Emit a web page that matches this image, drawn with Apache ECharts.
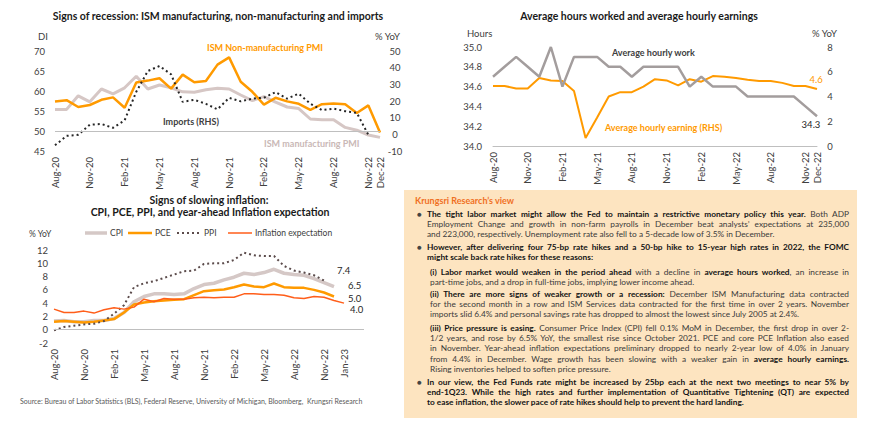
<!DOCTYPE html>
<html>
<head>
<meta charset="utf-8">
<script src="https://cdn.jsdelivr.net/npm/echarts/dist/echarts.min.js"></script>
<style>
  html, body { margin:0; padding:0; background:#fff; }
  #chart { position:absolute; left:0; top:0; width:870px; height:427px; }
  .box { position:absolute; left:404px; top:190px; width:453px; height:228px; background:#fde4c0; font-family: Lato, "Open Sans", sans-serif; color:#3a3a3a; }
  .ttl { position:absolute; left:11px; top:5px; font-size:9px; line-height:12px; font-weight:bold; color:#f0701f; white-space:nowrap; }
  .p { position:absolute; left:23px; width:422px; font-size:8.3px; line-height:10.2px; }
  .p.sub { left:26px; width:419px; }
  .p .l { display:block; text-align:justify; text-align-last:justify; }
  .p .l.e { text-align-last:left; }
  .bul { position:absolute; left:-10px; top:0; font-size:8px; color:#444; }
  .p b { color:#141414; }
</style>
</head>
<body>
<div id="chart"></div>
<div class="box">
  <div class="ttl">Krungsri Research’s view</div>
  <div class="p" style="top:19px"><span class="bul">●</span>
    <span class="l"><b>The tight labor market might allow the Fed to maintain a restrictive monetary policy this year.</b> Both ADP</span>
    <span class="l">Employment Change and growth in non-farm payrolls in December beat analysts’ expectations at 235,000</span>
    <span class="l e">and 223,000, respectively. Unemployment rate also fell to a 5-decade low of 3.5% in December.</span>
  </div>
  <div class="p" style="top:52px"><span class="bul">●</span>
    <span class="l"><b>However, after delivering four 75-bp rate hikes and a 50-bp hike to 15-year high rates in 2022, the FOMC</b></span>
    <span class="l e"><b>might scale back rate hikes for these reasons:</b></span>
  </div>
  <div class="p sub" style="top:77px">
    <span class="l"><b>(i) Labor market would weaken in the period ahead</b> with a decline in <b>average hours worked</b>, an increase in</span>
    <span class="l e">part-time jobs, and a drop in full-time jobs, implying lower income ahead.</span>
  </div>
  <div class="p sub" style="top:99px">
    <span class="l"><b>(ii) There are more signs of weaker growth or a recession:</b> December ISM Manufacturing data contracted</span>
    <span class="l">for the second month in a row and ISM Services data contracted for the first time in over 2 years. November</span>
    <span class="l e">imports slid 6.4% and personal savings rate has dropped to almost the lowest since July 2005 at 2.4%.</span>
  </div>
  <div class="p sub" style="top:133px">
    <span class="l"><b>(iii) Price pressure is easing.</b> Consumer Price Index (CPI) fell 0.1% MoM in December, the first drop in over 2-</span>
    <span class="l">1/2 years, and rose by 6.5% YoY, the smallest rise since October 2021. PCE and core PCE Inflation also eased</span>
    <span class="l">in November. Year-ahead inflation expectations preliminary dropped to nearly 2-year low of 4.0% in January</span>
    <span class="l">from 4.4% in December. Wage growth has been slowing with a weaker gain in <b>average hourly earnings.</b></span>
    <span class="l e">Rising inventories helped to soften price pressure.</span>
  </div>
  <div class="p" style="top:187px"><span class="bul">●</span>
    <span class="l"><b>In our view, the Fed Funds rate might be increased by 25bp each at the next two meetings to near 5% by</b></span>
    <span class="l"><b>end-1Q23. While the high rates and further implementation of Quantitative Tightening (QT) are expected</b></span>
    <span class="l e"><b>to ease inflation, the slower pace of rate hikes should help to prevent the hard landing.</b></span>
  </div>
</div>
<script>
// ---------- categories ----------
const months = ['Aug-20','Sep-20','Oct-20','Nov-20','Dec-20','Jan-21','Feb-21','Mar-21','Apr-21','May-21','Jun-21','Jul-21',
  'Aug-21','Sep-21','Oct-21','Nov-21','Dec-21','Jan-22','Feb-22','Mar-22','Apr-22','May-22','Jun-22','Jul-22',
  'Aug-22','Sep-22','Oct-22','Nov-22','Dec-22','Jan-23','Feb-23','Mar-23'];
const months1 = months.slice(0, 29);   // Aug-20 .. Dec-22
const months3 = months.slice(0, 32);   // Aug-20 .. Mar-23

// ---------- chart 1: ISM & imports ----------
const ismMfg = [55.4, 55.4, 58.8, 57.3, 60.5, 59.3, 60.8, 63.7, 60.5, 61.5, 60.8, 59.8, 59.7, 60.3, 60.7, 60.5,
  59.0, 57.6, 58.6, 57.2, 56.0, 55.6, 53.0, 52.8, 52.8, 50.9, 50.2, 49.0, 48.4];
const ismNonMfg = [57.4, 57.7, 56.0, 56.5, 57.8, 58.4, 55.8, 62.1, 62.6, 63.2, 60.6, 64.1, 62.2, 62.5, 66.6, 68.4,
  62.3, 59.8, 56.6, 58.3, 57.4, 56.8, 55.3, 56.7, 56.9, 56.7, 54.5, 56.4, 49.6];
const imports = [-6.6, -0.9, -0.3, 5.8, 6.2, 3.9, 8.4, 25.5, 38.0, 41.0, 36.0, 19.5, 20.7, 18.3, 15.0, 21.9,
  19.8, 21.4, 22.0, 25.3, 21.4, 24.4, 18.4, 14.5, 15.4, 13.9, 12.9, -0.4];

// ---------- chart 2: hours & earnings ----------
const hours = [34.7, 34.8, 34.9, 34.8, 34.7, 35.0, 34.6, 34.9, 34.9, 34.9, 34.8, 34.8, 34.7, 34.8, 34.8, 34.8,
  34.8, 34.6, 34.7, 34.6, 34.6, 34.6, 34.5, 34.5, 34.5, 34.5, 34.5, 34.4, 34.3];
const earnings = [4.85, 4.85, 4.65, 4.65, 5.5, 5.3, 5.25, 4.45, 0.65, 2.3, 4.0, 4.35, 4.35, 4.8, 5.4, 5.3,
  4.9, 5.4, 5.2, 5.65, 5.6, 5.5, 5.35, 5.25, 5.25, 5.1, 4.85, 4.85, 4.6];

// ---------- chart 3: inflation ----------
const cpi = [1.3, 1.4, 1.2, 1.2, 1.4, 1.4, 1.7, 2.6, 4.2, 5.0, 5.4, 5.4, 5.3, 5.4, 6.2, 6.8,
  7.0, 7.5, 7.9, 8.5, 8.3, 8.6, 9.1, 8.5, 8.3, 8.2, 7.7, 7.1, 6.5];
const pce = [1.2, 1.3, 1.2, 1.1, 1.2, 1.4, 1.6, 2.6, 3.8, 4.1, 4.3, 4.4, 4.5, 4.6, 5.2, 5.8,
  5.95, 6.05, 6.4, 6.8, 6.5, 6.4, 6.95, 6.4, 6.3, 6.3, 6.0, 5.6, 5.0];
const ppi = [-0.1, 0.4, 0.6, 0.8, 0.9, 1.3, 2.4, 3.7, 6.4, 7.0, 7.3, 7.8, 8.3, 8.8, 8.9, 9.9,
  10.0, 10.0, 10.5, 11.6, 11.2, 11.1, 11.1, 9.6, 8.9, 8.6, 8.2, 7.4];
const inflExp = [3.1, 2.6, 2.6, 2.8, 2.5, 3.0, 3.3, 3.1, 3.4, 4.6, 4.2, 4.7, 4.6, 4.6, 4.8, 4.9,
  4.8, 4.9, 4.9, 5.4, 5.4, 5.3, 5.3, 5.2, 4.8, 4.7, 5.0, 4.9, 4.4, 4.0];

const FONT = 'Lato, "Open Sans", sans-serif';
const AX = '#404040';
const ORANGE = '#ff9a00';

const chart = echarts.init(document.getElementById('chart'), null, { renderer: 'svg', width: 870, height: 427 });

const catAxis = (grid, data, shown) => ({
  type: 'category', gridIndex: grid, data: data, boundaryGap: false,
  axisLine: { show: false }, axisTick: { show: false }, splitLine: { show: false },
  axisLabel: { rotate: 90, margin: 6, fontSize: 9.5, color: AX, fontFamily: FONT,
    interval: (idx) => shown(idx) }
});
const valAxis = (grid, min, max, step, pos, margin, fmt, align) => ({
  type: 'value', gridIndex: grid, min: min, max: max, interval: step, position: pos,
  axisLine: { show: false }, axisTick: { show: false }, splitLine: { show: false },
  axisLabel: { margin: margin, fontSize: 9.5, color: AX, fontFamily: FONT, formatter: fmt, align: align }
});

const fmt1 = p => Number(p.value).toFixed(1);
const endLbl = (opt) => Object.assign({ show: true, formatter: fmt1, fontSize: 9.5, fontFamily: FONT, color: '#262626' }, opt);

const text = (t, x, y, opt) => ({
  type: 'text', x: x, y: y, silent: true,
  style: Object.assign({ text: t, fill: AX, fontFamily: FONT, fontSize: 9, textAlign: 'left', textVerticalAlign: 'middle' }, opt || {})
});
const legLine = (x1, x2, y, stroke, w, dash) => ({
  type: 'line', silent: true, shape: { x1: x1, y1: y, x2: x2, y2: y },
  style: { stroke: stroke, lineWidth: w, lineDash: dash || null }
});

const option = {
  animation: false,
  grid: [
    { left: 55, top: 51, width: 325, height: 100, containLabel: false, outerBoundsMode: 'none' },
    { left: 493, top: 47, width: 324, height: 99, containLabel: false, outerBoundsMode: 'none' },
    { left: 54, top: 250, width: 310, height: 93, containLabel: false, outerBoundsMode: 'none' }
  ],
  xAxis: [
    catAxis(0, months1, i => i % 3 === 0 || i === 28),
    Object.assign(catAxis(1, months1, i => i % 3 === 0 || i === 28),
      { axisLine: { show: true, onZero: false, lineStyle: { color: '#bfbfbf', width: 1 } } }),
    catAxis(2, months3, i => (i % 3 === 0 && i <= 27) || i === 29)
  ],
  yAxis: [
    valAxis(0, 45, 70, 5, 'left', 10),
    valAxis(0, -10, 50, 10, 'right', 15, null, 'center'),
    valAxis(1, 34, 35, 0.2, 'left', 11, v => v.toFixed(1)),
    valAxis(1, 0, 8, 2, 'right', 13, null, 'center'),
    valAxis(2, -2, 12, 2, 'left', 6)
  ],
  series: [
    // chart 1
    { name: 'ISM manufacturing PMI', type: 'line', xAxisIndex: 0, yAxisIndex: 0, data: ismMfg, symbol: 'none',
      lineStyle: { color: '#d6c7c5', width: 3 }, z: 2,
      markLine: { silent: true, symbol: 'none', label: { show: false },
        lineStyle: { color: '#bfbfbf', width: 1, type: 'solid' }, data: [{ yAxis: 50 }] } },
    { name: 'ISM Non-manufacturing PMI', type: 'line', xAxisIndex: 0, yAxisIndex: 0, data: ismNonMfg, symbol: 'none',
      lineStyle: { color: ORANGE, width: 2.5 }, z: 3 },
    { name: 'Imports (RHS)', type: 'line', xAxisIndex: 0, yAxisIndex: 1, data: imports, symbol: 'none',
      lineStyle: { color: '#262626', width: 2, type: [2, 3] }, z: 4 },
    // chart 2
    { name: 'Average hourly earning (RHS)', type: 'line', xAxisIndex: 1, yAxisIndex: 3, symbol: 'none', data: earnings,
      endLabel: endLbl({ color: ORANGE, align: 'center', distance: 0, offset: [-1, -10] }),
      lineStyle: { color: ORANGE, width: 2 }, z: 2 },
    { name: 'Average hourly work', type: 'line', xAxisIndex: 1, yAxisIndex: 2, symbol: 'none', data: hours,
      endLabel: endLbl({ align: 'center', distance: 0, offset: [-6, 8] }),
      lineStyle: { color: '#a39d9d', width: 2.5 }, z: 3 },
    // chart 3
    { name: 'CPI', type: 'line', xAxisIndex: 2, yAxisIndex: 4, symbol: 'none', data: cpi,
      endLabel: endLbl({ distance: 14, offset: [0, -1] }),
      lineStyle: { color: '#d5c8c6', width: 3.5 }, z: 2,
      markLine: { silent: true, symbol: 'none', label: { show: false },
        lineStyle: { color: '#bfbfbf', width: 1, type: 'solid' }, data: [{ yAxis: 0 }] } },
    { name: 'PCE', type: 'line', xAxisIndex: 2, yAxisIndex: 4, symbol: 'none', data: pce,
      endLabel: endLbl({ distance: 14, offset: [0, 1.5] }),
      lineStyle: { color: ORANGE, width: 2.5 }, z: 3 },
    { name: 'PPI', type: 'line', xAxisIndex: 2, yAxisIndex: 4, symbol: 'none', data: ppi,
      endLabel: endLbl({ distance: 13, offset: [0, -10] }),
      lineStyle: { color: '#5b4b4b', width: 2, type: [2, 3] }, z: 4 },
    { name: 'Inflation expectation', type: 'line', xAxisIndex: 2, yAxisIndex: 4, symbol: 'none', data: inflExp,
      endLabel: endLbl({ distance: 6, offset: [0, 6] }),
      lineStyle: { color: '#ff5e1a', width: 1.5 }, z: 5 }
  ],
  graphic: [
    text('Signs of recession: ISM manufacturing, non-manufacturing and imports', 218, 16, { fontWeight: 'bold', fontSize: 10.5, textAlign: 'center', fill: '#1a1a1a' }),
    text('DI', 38, 36, { fontSize: 9.5 }),
    text('% YoY', 375, 36, { fontSize: 9.5 }),
    text('ISM Non-manufacturing PMI', 207, 47, { fill: ORANGE, fontWeight: 'bold' }),
    text('Imports (RHS)', 163, 121, { fill: '#404040', fontWeight: 'bold' }),
    text('ISM manufacturing PMI', 264, 143, { fill: '#c9b8b6', fontWeight: 'bold' }),

    text('Average hours worked and average hourly earnings', 639, 16, { fontWeight: 'bold', fontSize: 10.5, textAlign: 'center', fill: '#1a1a1a' }),
    text('Hours', 467, 33, { fontSize: 9.5 }),
    text('% YoY', 812, 33, { fontSize: 9.5 }),
    text('Average hourly work', 612, 52, { fill: '#404040', fontWeight: 'bold' }),
    text('Average hourly earning (RHS)', 605, 127, { fill: ORANGE, fontWeight: 'bold' }),

    text('Signs of slowing inflation:', 209, 200, { fontWeight: 'bold', fontSize: 10.5, textAlign: 'center', fill: '#1a1a1a' }),
    text('CPI, PCE, PPI, and year-ahead Inflation expectation', 210, 212, { fontWeight: 'bold', fontSize: 10.5, textAlign: 'center', fill: '#1a1a1a' }),
    text('% YoY', 29, 234, { fontSize: 8.5 }),
    legLine(85, 107, 233, '#d5c8c6', 3.5),
    text('CPI', 110, 233, { fontSize: 8.5 }),
    legLine(128, 152, 233, ORANGE, 2.5),
    text('PCE', 155, 233, { fontSize: 8.5 }),
    legLine(177, 200, 233, '#5b4b4b', 2, [2, 3]),
    text('PPI', 204, 233, { fontSize: 8.5 }),
    legLine(228, 252, 233, '#ff5e1a', 1.5),
    text('Inflation expectation', 255, 233, { fontSize: 8.5 }),
    text('Source: Bureau of Labor Statistics (BLS), Federal Reserve, University of Michigan, Bloomberg,  Krungsri Research', 20, 401, { fontSize: 7, fill: '#595959' })
  ]
};
chart.setOption(option);
</script>
</body>
</html>
